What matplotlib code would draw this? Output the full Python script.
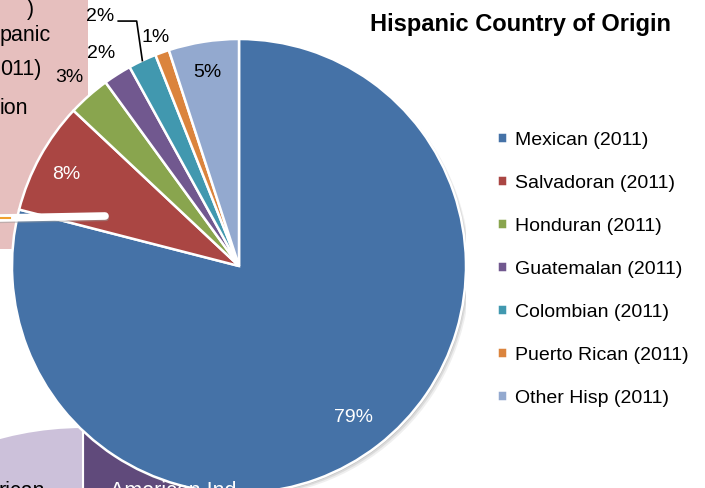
import numpy as np
import matplotlib.pyplot as plt
from matplotlib.patches import Rectangle, Circle
from matplotlib.lines import Line2D

plt.rcParams['font.family'] = ['Liberation Sans', 'DejaVu Sans']

# data
origins = ['Mexican (2011)', 'Salvadoran (2011)', 'Honduran (2011)',
           'Guatemalan (2011)', 'Colombian (2011)', 'Puerto Rican (2011)',
           'Other Hisp (2011)']
shares = [79, 8, 3, 2, 2, 1, 5]

# neighbouring chart that overlaps the bottom-left corner
other_labels = ['American Ind', 'rican']
other_shares = [50, 50]

# styles
colors = ['#4572A7', '#AA4643', '#89A54E', '#71588F', '#4198AF', '#DB843D', '#93A9CF']
label_colors = ['white', 'white', 'black', 'black', 'black', 'black', 'black']
label_r = [0.82, 0.87, 1.13, 1.13, 1.13, 1.09, 0.88]

W, H = 705, 489
fig = plt.figure(figsize=(W / 100, H / 100), dpi=100)
fig.patch.set_facecolor('white')


def fx(px):
    return px / W


def fy(py):
    return 1 - py / H


# pink callout box from a neighbouring shape
fig.patches.append(Rectangle((0, fy(250)), fx(88), 250 / H, transform=fig.transFigure,
                             facecolor='#E6BFBE', edgecolor='none', zorder=-2))
for txt, x, y in [(')', 27, 9), ('panic', 0, 36), ('011)', 0, 69), ('ion', 0, 109)]:
    fig.text(fx(x), fy(y), txt, fontsize=15.5, ha='left', va='center', zorder=-1)

# other pie peeking in at the bottom left
cx2, cy2, r2 = 83, 748, 320
ax2 = fig.add_axes([fx(cx2 - r2), fy(cy2 + r2), 2 * r2 / W, 2 * r2 / H], zorder=-1)
ax2.pie(other_shares, colors=['#604A7B', '#CCC1DA'], startangle=90, counterclock=False,
        radius=1, wedgeprops=dict(edgecolor='white', linewidth=1.5))
ax2.set_xlim(-1, 1)
ax2.set_ylim(-1, 1)
ax2.axis('off')
fig.text(fx(110), fy(481), other_labels[0], color='white', fontsize=15.5, ha='left', va='top')
fig.text(fx(-2), fy(481), other_labels[1], color='black', fontsize=15.5, ha='left', va='top')

# main pie
cx, cy, r = 239, 267, 227
ax = fig.add_axes([fx(cx - r), fy(cy + r), 2 * r / W, 2 * r / H], zorder=0)
for off, a in [(0.018, 0.12), (0.012, 0.18), (0.006, 0.25)]:
    ax.add_patch(Circle((off, -off), 1.0, color='#7f7f7f', alpha=a, lw=0, zorder=0))
wedges, _ = ax.pie(shares, colors=colors, startangle=90, counterclock=False, radius=1,
                   wedgeprops=dict(edgecolor='white', linewidth=1.8, zorder=2))
ax.set_xlim(-1, 1)
ax.set_ylim(-1, 1)
ax.axis('off')

for i, w in enumerate(wedges):
    mid = np.deg2rad((w.theta1 + w.theta2) / 2)
    rr = label_r[i]
    lx, ly = rr * np.cos(mid), rr * np.sin(mid) - 0.013
    if i == 4:
        # Colombian label lifted up with a leader line
        ex, ey = np.cos(mid), np.sin(mid)
        lx, ly = -0.612, 1.105
        ax.add_line(Line2D([ex, ex - 0.025, lx + 0.08], [ey, 1.079, 1.079],
                           color='black', lw=1.2, clip_on=False, zorder=3))
    ax.text(lx, ly, f'{shares[i]}%', color=label_colors[i], fontsize=14,
            ha='center', va='center', zorder=4, clip_on=False)

# white pointer of the callout lying across the pie
fig.add_artist(Line2D([fx(0), fx(106)], [fy(221), fy(219)], color='#9a9a9a', lw=4.5,
                      alpha=0.5, solid_capstyle='round', zorder=5))
fig.add_artist(Line2D([fx(0), fx(105)], [fy(219), fy(217)], color='white', lw=5.5,
                      solid_capstyle='round', zorder=6))
fig.add_artist(Line2D([fx(0), fx(10)], [fy(219), fy(219)], color='#F0A030', lw=1.5,
                      zorder=7))

fig.text(fx(521), fy(25), 'Hispanic Country of Origin', fontsize=17, fontweight='bold',
         ha='center', va='center')

fig.legend(wedges, origins, loc='upper left', bbox_to_anchor=(fx(497), fy(132)),
           frameon=False, fontsize=14, handlelength=0.5, handleheight=0.5,
           handletextpad=0.45, labelspacing=1.34, borderpad=0, borderaxespad=0)

fig.savefig('out.png', dpi=100)
